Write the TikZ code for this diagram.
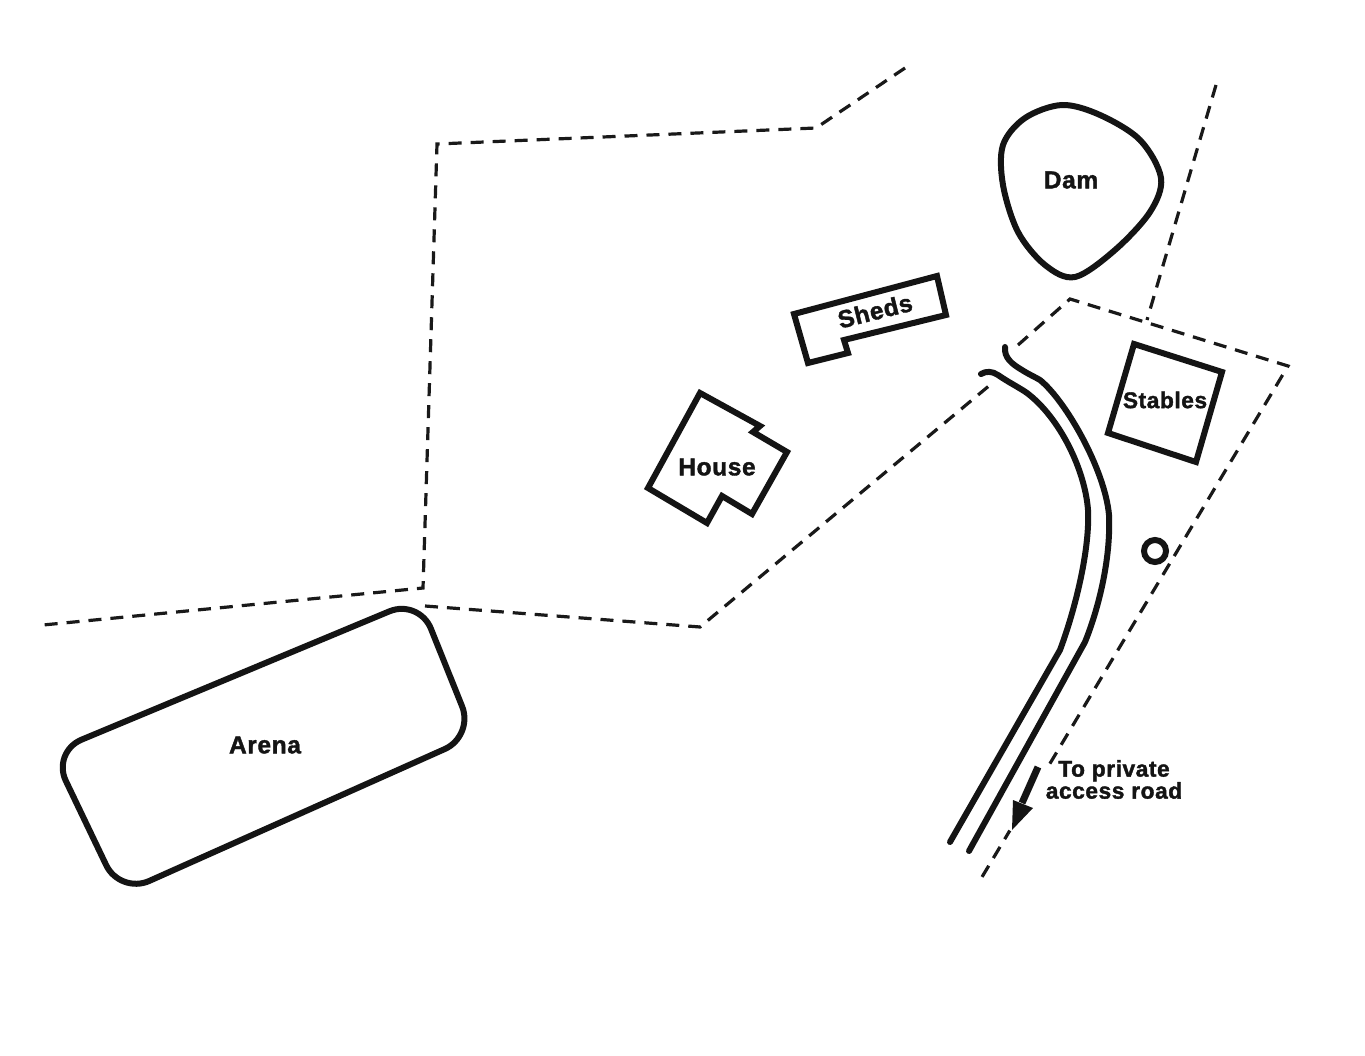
\documentclass[tikz,border=0pt]{standalone}
\usepackage{fontspec}
\setmainfont{Liberation Sans}[BoldFeatures={FakeBold=1.6,LetterSpace=2.5}]
\tikzset{
  solidline/.style={line width=6pt,black!92,line join=miter},
  roadline/.style={line width=6pt,black!92,line cap=round},
  boundary/.style={line width=3.2pt,black!90,dash pattern=on 13pt off 9pt},
  lbl/.style={font=\bfseries\fontsize{24.5}{24.5}\selectfont,text=black!92,inner sep=0pt},
  smalllbl/.style={font=\bfseries\fontsize{22.7}{23}\selectfont,text=black!92,inner sep=0pt}
}
\begin{document}
\begin{tikzpicture}[x=1pt,y=-1pt]
\useasboundingbox (0,0) rectangle (1365,1056);
\fill[white] (0,0) rectangle (1365,1056);
% boundaries
\draw[boundary] (905,68) -- (816,128) -- (437,144) -- (423,588) -- (43,625);
\draw[boundary] (425,606) -- (700,627) -- (990,385);
\draw[boundary] (1018,345) -- (1070,299) -- (1288,366) -- (982,877);
\draw[boundary] (1216,85) -- (1147,320);
% dam
\draw[solidline] plot[smooth cycle,tension=0.55] coordinates {(1062,105) (1100,115) (1140,140) (1161,178) (1150,212) (1115,250) (1075,277) (1045,265) (1018,232) (1003,185) (1003,145) (1025,118)};
% buildings
\draw[solidline] (794,314) -- (937,276) -- (946,315) -- (844,340) -- (848,353) -- (808,363) -- cycle;
\draw[solidline] (700,393) -- (760,426) -- (753,432) -- (787,452) -- (752,514) -- (722,496) -- (707,523) -- (648,488) -- cycle;
\draw[solidline] (1134,344) -- (1222,372) -- (1196,462) -- (1108,433) -- cycle;
\draw[solidline] (1155,551) circle (11);
% arena
\draw[solidline,rounded corners=32pt] (52,752) -- (419,599) -- (474,736) -- (120,894) -- cycle;
% road
\draw[roadline] (981,374) .. controls (986,371) and (992,371) .. (998,375) .. controls (1008,382) and (1020,388) .. (1027,393) .. controls (1060,418) and (1085,470) .. (1088,510) .. controls (1090,550) and (1075,610) .. (1060,650) -- (950,842);
\draw[roadline] (1005,347) .. controls (1004,358) and (1012,364) .. (1022,370) .. controls (1030,375) and (1035,377) .. (1040,380) .. controls (1066,401) and (1105,470) .. (1109,515) .. controls (1111,560) and (1098,610) .. (1085,642) -- (969,851);
% gap in the boundary behind the arrow
\draw[white,line width=7pt] (1045.5,770) -- (1010,830.5);
% arrow
\coordinate (arrowstart) at (1038,767);
\coordinate (arrowneck) at (1022,803);
\draw[line width=7pt,black!92] (arrowstart) -- (arrowneck);
\fill[black!92] (1012,830) -- (1013,800) -- (1033,808) -- cycle;
% labels
\node[lbl] (dam) at (1071,180) {Dam};
\node[lbl,rotate=14] (sheds) at (875,311) {Sheds};
\node[lbl] (house) at (717,467) {House};
\node[smalllbl] (stables) at (1165,400) {Stables};
\node[lbl] (arena) at (265,745) {Arena};
\node[smalllbl,align=center] (access) at (1114,779.5) {To private\\[-1pt]access road};
\end{tikzpicture}
\end{document}
